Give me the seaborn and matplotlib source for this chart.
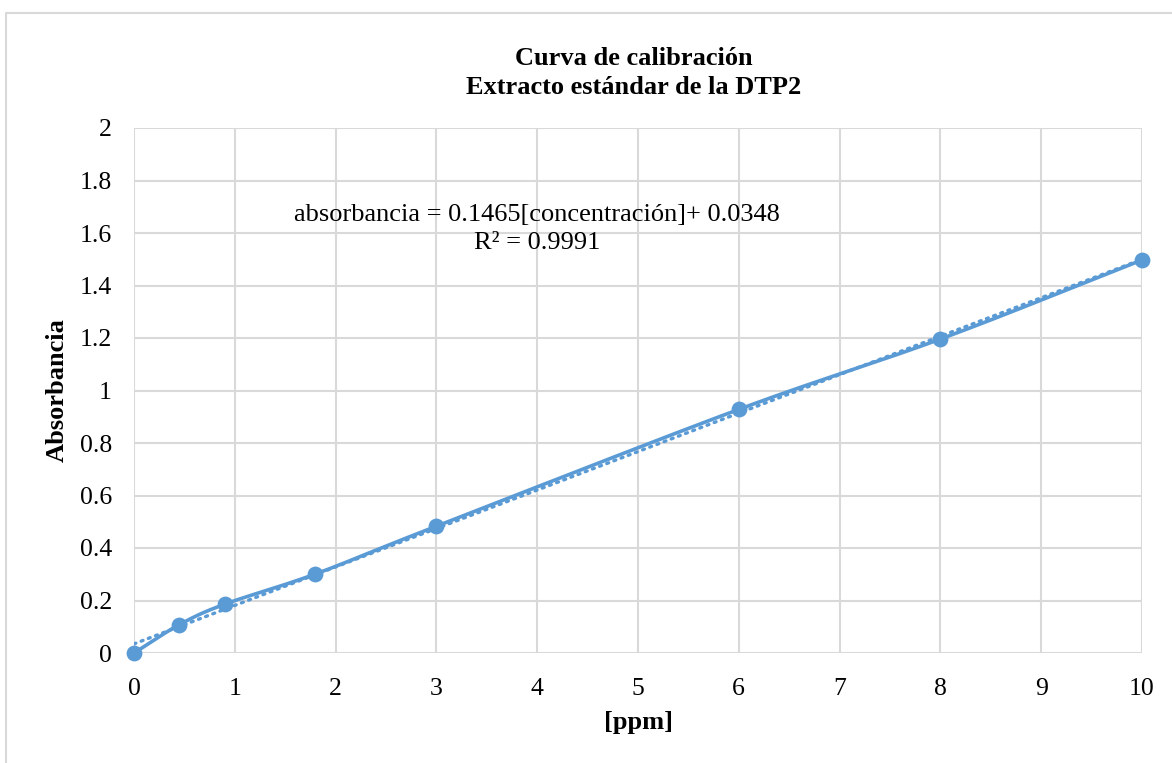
import numpy as np
import pandas as pd
import matplotlib
matplotlib.use("Agg")
import matplotlib.pyplot as plt
import seaborn as sns
from matplotlib.patches import Rectangle

# Data
concentracion = [0, 0.45, 0.9, 1.8, 3, 6, 8, 10]
absorbancia = [0.0, 0.108, 0.186, 0.301, 0.483, 0.928, 1.196, 1.497]
slope = 0.1465
intercept = 0.0348
r2 = 0.9991
x_ticks = [0, 1, 2, 3, 4, 5, 6, 7, 8, 9, 10]
y_ticks = [0, 0.2, 0.4, 0.6, 0.8, 1.0, 1.2, 1.4, 1.6, 1.8, 2.0]
y_tick_labels = ["0", "0.2", "0.4", "0.6", "0.8", "1", "1.2", "1.4", "1.6", "1.8", "2"]

title = "Curva de calibración\nExtracto estándar de la DTP2"
xlabel = "[ppm]"
ylabel = "Absorbancia"

color = "#5B9BD5"
grid_color = "#D9D9D9"

sns.set_theme(style="white")
plt.rcParams["font.family"] = ["Liberation Serif", "DejaVu Serif"]
plt.rcParams["text.color"] = "black"
plt.rcParams["axes.labelcolor"] = "black"


def smooth_curve(xs, ys, n=40):
    """Catmull-Rom smoothing for display (like a spreadsheet's smoothed line)."""
    xs = np.asarray(xs, float)
    ys = np.asarray(ys, float)
    P = np.column_stack([xs, ys])
    P = np.vstack([P[0] + (P[0] - P[1]), P, P[-1] + (P[-1] - P[-2])])
    out = []
    for i in range(1, len(P) - 2):
        p0, p1, p2, p3 = P[i - 1], P[i], P[i + 1], P[i + 2]
        t = np.linspace(0, 1, n, endpoint=(i == len(P) - 3))[:, None]
        seg = 0.5 * ((2 * p1) + (-p0 + p2) * t + (2 * p0 - 5 * p1 + 4 * p2 - p3) * t ** 2
                     + (-p0 + 3 * p1 - 3 * p2 + p3) * t ** 3)
        out.append(seg)
    out = np.vstack(out)
    return out[:, 0], out[:, 1]


fig = plt.figure(figsize=(11.72, 7.63), dpi=100)
ax = fig.add_axes([134 / 1172, 1 - 653 / 763, (1142 - 134) / 1172, (653 - 128) / 763])

# frame of chart area
fig.add_artist(Rectangle((6 / 1172, -0.2), 1.2, 1 - 13 / 763 + 0.2, transform=fig.transFigure,
                         fill=False, edgecolor=grid_color, linewidth=1.5, clip_on=False))

# trendline
tx = np.array([0, 10])
trend = pd.DataFrame({"x": tx, "y": slope * tx + intercept})
sns.lineplot(data=trend, x="x", y="y", ax=ax, color=color, linewidth=2.4,
             linestyle=(0, (0.6, 1.7)), zorder=3)
ax.lines[-1].set_dash_capstyle("round")

# smoothed line
sx, sy = smooth_curve(concentracion, absorbancia)
curve = pd.DataFrame({"x": sx, "y": sy})
sns.lineplot(data=curve, x="x", y="y", ax=ax, color=color, linewidth=2.6, sort=False, zorder=4)

df = pd.DataFrame({"x": concentracion, "y": absorbancia})
sns.scatterplot(data=df, x="x", y="y", ax=ax, color=color, s=130, edgecolor=color,
                linewidth=0, zorder=5, clip_on=False)

ax.set_xlim(0, 10)
ax.set_ylim(0, 2)
ax.set_xticks(x_ticks)
ax.set_yticks(y_ticks)
ax.set_yticklabels(y_tick_labels)
ax.tick_params(axis="both", labelsize=18.5, colors="black", length=0)
ax.tick_params(axis="x", pad=18)
ax.tick_params(axis="y", pad=16)
ax.grid(True, color=grid_color, linewidth=1.5)
ax.set_axisbelow(True)
for s in ax.spines.values():
    s.set_visible(False)

ax.set_xlabel(xlabel, fontsize=19, fontweight="bold", labelpad=8)
ax.set_ylabel(ylabel, fontsize=19, fontweight="bold", labelpad=8)

fig.text(634 / 1172, 1 - 73 / 763, title, ha="center", va="center", fontsize=19,
         fontweight="bold", linespacing=1.38)

ax.text(537 / 1172, 1 - 229 / 763,
        "absorbancia = %.4f[concentración]+ %.4f\nR² = %.4f" % (slope, intercept, r2),
        transform=fig.transFigure, ha="center", va="center", fontsize=19, linespacing=1.38)

fig.savefig("out.png", dpi=100)
